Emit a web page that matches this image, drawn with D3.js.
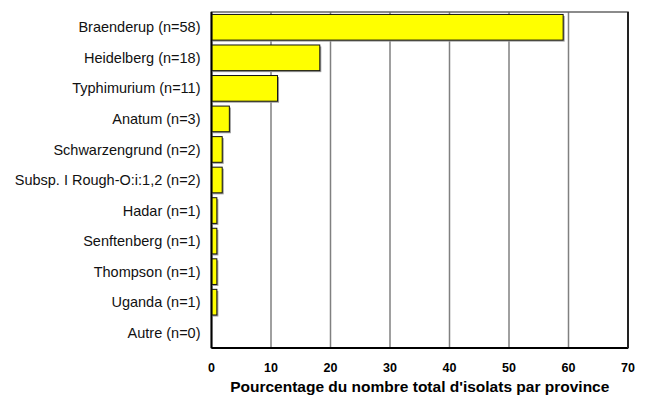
<!DOCTYPE html>
<meta charset="utf-8">
<style>
body { margin: 0; background: #fff; }
text { font-family: "Liberation Sans", Arial, sans-serif; }
.grid line { stroke: #808080; stroke-width: 1.5px; }
</style>
<svg width="648" height="403"></svg>
<script src="https://d3js.org/d3.v7.min.js"></script>
<script>

var categories = ["Braenderup (n=58)", "Heidelberg (n=18)", "Typhimurium (n=11)", "Anatum (n=3)",
  "Schwarzengrund (n=2)", "Subsp. I Rough-O:i:1,2 (n=2)", "Hadar (n=1)", "Senftenberg (n=1)",
  "Thompson (n=1)", "Uganda (n=1)", "Autre (n=0)"];
var values = [59.1, 18.2, 11.1, 3.0, 1.8, 1.8, 0.9, 0.9, 0.9, 0.9, 0];
var ticks = [0, 10, 20, 30, 40, 50, 60, 70];
var axisTitle = "Pourcentage du nombre total d'isolats par province";

var svg = d3.select("svg"),
    margin = {top: 12, right: 20, bottom: 55, left: 211.5},
    width = +svg.attr("width") - margin.left - margin.right,
    height = +svg.attr("height") - margin.top - margin.bottom;

var g = svg.append("g").attr("transform", "translate(" + margin.left + "," + margin.top + ")");

var x = d3.scaleLinear().domain([0, 70]).range([0, width]);
var y = d3.scaleBand().domain(categories).range([0, height]).paddingInner(0.16).paddingOuter(0.08);

// vertical gridlines
g.append("g").attr("class", "grid")
  .selectAll("line")
  .data(ticks.slice(1))
  .enter().append("line")
    .attr("x1", function(d) { return x(d); })
    .attr("x2", function(d) { return x(d); })
    .attr("y1", 0)
    .attr("y2", height);

// bar shadows
g.append("g").selectAll("rect")
  .data(values)
  .enter().append("rect")
    .attr("x", x(0) + 1.5)
    .attr("y", function(d, i) { return y(categories[i]) + 1.5; })
    .attr("width", function(d) { return d > 0 ? x(d) - x(0) : 0; })
    .attr("height", y.bandwidth())
    .attr("fill", "#999");

// bars
g.append("g").selectAll("rect")
  .data(values)
  .enter().append("rect")
    .attr("x", x(0))
    .attr("y", function(d, i) { return y(categories[i]); })
    .attr("width", function(d) { return x(d) - x(0); })
    .attr("height", y.bandwidth())
    .attr("fill", function(d) { return d > 0 ? "#ffff00" : "none"; })
    .attr("stroke", function(d) { return d > 0 ? "#111" : "none"; })
    .attr("stroke-width", 1);

// frame
g.append("rect")
  .attr("x", 0).attr("y", 0)
  .attr("width", width).attr("height", height)
  .attr("fill", "none")
  .attr("stroke", "#666")
  .attr("stroke-width", 1.5);
g.append("line").attr("x1", 0).attr("x2", 0).attr("y1", 0).attr("y2", height)
  .attr("stroke", "#000").attr("stroke-width", 2);
g.append("line").attr("x1", 0).attr("x2", width).attr("y1", height).attr("y2", height)
  .attr("stroke", "#000").attr("stroke-width", 2);
g.append("line").attr("x1", width).attr("x2", width).attr("y1", 0).attr("y2", height)
  .attr("stroke", "#222").attr("stroke-width", 2);

// category labels
g.append("g").selectAll("text")
  .data(categories)
  .enter().append("text")
    .attr("x", -11)
    .attr("y", function(d) { return y(d) + y.bandwidth() / 2; })
    .attr("dy", "0.35em")
    .attr("text-anchor", "end")
    .attr("font-size", "14.5px")
    .attr("fill", "#111")
    .text(function(d) { return d; });

// tick labels
g.append("g").selectAll("text")
  .data(ticks)
  .enter().append("text")
    .attr("x", function(d) { return x(d); })
    .attr("y", height + 24)
    .attr("text-anchor", "middle")
    .attr("font-size", "12.5px")
    .attr("font-weight", "bold")
    .text(function(d) { return d; });

// axis title
g.append("text")
  .attr("x", width / 2)
  .attr("y", height + 44)
  .attr("text-anchor", "middle")
  .attr("font-size", "15.5px")
  .attr("font-weight", "bold")
  .text(axisTitle);

</script>
